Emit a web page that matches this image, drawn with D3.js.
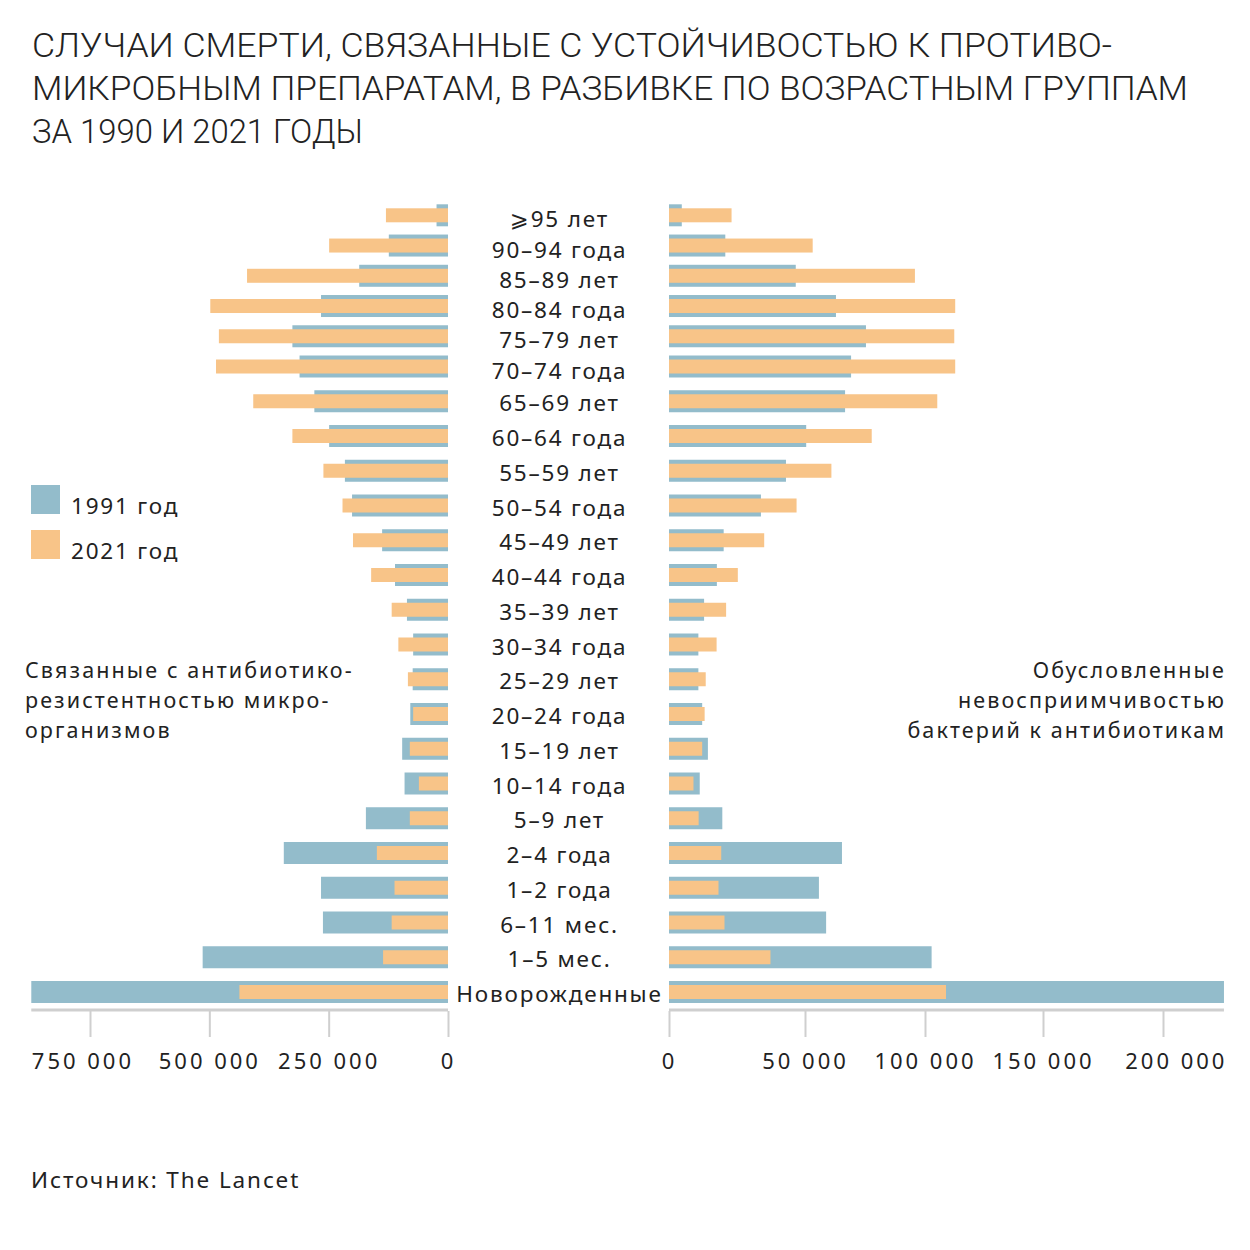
<!DOCTYPE html>
<html>
<head>
<meta charset="utf-8">
<script src="https://cdn.jsdelivr.net/npm/d3@7"></script>
<style>
  body { margin: 0; background: #fff; }
  text { font-family: "Noto Sans", "DejaVu Sans", sans-serif; fill: #222; }
  .title { font-family: "Roboto", "Noto Sans", sans-serif; font-weight: 300; font-size: 33px; }
  .cat { font-size: 22.5px; letter-spacing: 1.8px; }
  .note { font-size: 21.5px; letter-spacing: 2.1px; }
  .axis text { font-size: 22px; letter-spacing: 3px; fill: #222; }
  .axis line { stroke: #cfcfcf; stroke-width: 2; }
</style>
</head>
<body>
<svg id="chart" width="1250" height="1250"></svg>
<script>
// данные
var categories = ["\u2A7E95 лет", "90–94 года", "85–89 лет", "80–84 года", "75–79 лет", "70–74 года",
  "65–69 лет", "60–64 года", "55–59 лет", "50–54 года", "45–49 лет", "40–44 года", "35–39 лет",
  "30–34 года", "25–29 лет", "20–24 года", "15–19 лет", "10–14 года", "5–9 лет", "2–4 года",
  "1–2 года", "6–11 мес.", "1–5 мес.", "Новорожденные"];

// связанные (левая часть)
var assoc1991 = [24000, 124000, 186000, 266000, 326000, 311000, 280000, 249000, 216000, 201000,
  138000, 111000, 86000, 73000, 74000, 79000, 96000, 91000, 172000, 344000, 266000, 262000, 514000, 873000];
var assoc2021 = [130000, 249000, 421000, 498000, 480000, 486000, 408000, 326000, 261000, 221000,
  199000, 161000, 118000, 104000, 84000, 73000, 80000, 61000, 80000, 149000, 112000, 118000, 136000, 437000];

// обусловленные (правая часть)
var attr1991 = [4700, 20700, 46600, 62900, 75400, 69200, 66700, 50500, 43000, 33800,
  20100, 17600, 12900, 10800, 10800, 12200, 14300, 11300, 19600, 65400, 55800, 58800, 102800, 225400];
var attr2021 = [23000, 53200, 95800, 112800, 112400, 112800, 105200, 77800, 61000, 46900,
  35000, 25300, 21000, 17500, 13500, 13100, 12200, 9000, 10900, 19200, 18200, 20400, 37300, 108900];

var leftTicks = [750000, 500000, 250000, 0];
var rightTicks = [0, 50000, 100000, 150000, 200000];

var years = ["1991 год", "2021 год"];
var colors = ["#93bccb", "#f8c488"];

var titleLines = ["СЛУЧАИ СМЕРТИ, СВЯЗАННЫЕ С УСТОЙЧИВОСТЬЮ К ПРОТИВО-",
  "МИКРОБНЫМ ПРЕПАРАТАМ, В РАЗБИВКЕ ПО ВОЗРАСТНЫМ ГРУППАМ",
  "ЗА 1990 И 2021 ГОДЫ"];
var titleWidths = [1080, 1156, 331];

var leftNote = ["Связанные с антибиотико-", "резистентностью микро-", "организмов"];
var rightNote = ["Обусловленные", "невосприимчивостью", "бактерий к антибиотикам"];

var svg = d3.select("#chart");

// заголовок
svg.append("g").selectAll("text")
  .data(titleLines)
  .enter().append("text")
  .attr("class", "title")
  .attr("x", 32)
  .attr("y", function(d, i) { return 57 + i * 43; })
  .attr("textLength", function(d, i) { return titleWidths[i]; })
  .attr("lengthAdjust", "spacingAndGlyphs")
  .text(function(d) { return d; });

// шкалы
var y = d3.scaleLinear()   // верх немного сжат, как на оригинале
  .domain([0, 5, categories.length - 1])
  .range([215.3, 366.5, 992]);

var xL = d3.scaleLinear().domain([0, 750000]).range([448, 90]);
var xR = d3.scaleLinear().domain(rightTicks).range([669, 805, 925, 1043, 1163]);

var bigH = 22, smallH = 14;

function drawSide(scale, v1991, v2021, isLeft) {
  var g = svg.append("g");
  g.selectAll("rect.b1991")
    .data(v1991)
    .enter().append("rect")
    .attr("class", "b1991")
    .attr("fill", colors[0])
    .attr("x", function(d) { return isLeft ? scale(d) : scale(0); })
    .attr("width", function(d) { return Math.abs(scale(d) - scale(0)); })
    .attr("y", function(d, i) { return y(i) - bigH / 2; })
    .attr("height", bigH);
  g.selectAll("rect.b2021")
    .data(v2021)
    .enter().append("rect")
    .attr("class", "b2021")
    .attr("fill", colors[1])
    .attr("x", function(d) { return isLeft ? scale(d) : scale(0); })
    .attr("width", function(d) { return Math.abs(scale(d) - scale(0)); })
    .attr("y", function(d, i) { return y(i) - smallH / 2; })
    .attr("height", smallH);
}
drawSide(xL, assoc1991, assoc2021, true);
drawSide(xR, attr1991, attr2021, false);

// подписи возрастных групп
svg.append("g").selectAll("text")
  .data(categories)
  .enter().append("text")
  .attr("class", "cat")
  .attr("x", (xL(0) + xR(0)) / 2 + 1)
  .attr("y", function(d, i) { return y(i) + 9 + (i < 6 ? 3 : 1); })
  .attr("text-anchor", "middle")
  .text(function(d) { return d; });

// оси
var fmt = d3.formatLocale({ decimal: ",", thousands: " ", grouping: [3], currency: ["", ""] }).format(",d");
var axisY = 1010;
var maxL = d3.max(assoc1991), maxR = d3.max(attr1991);

svg.append("line")
  .attr("x1", xL(maxL)).attr("x2", xL(0))
  .attr("y1", axisY).attr("y2", axisY)
  .attr("stroke", "#cfcfcf").attr("stroke-width", 3);
svg.append("line")
  .attr("x1", xR(0)).attr("x2", xR(maxR))
  .attr("y1", axisY).attr("y2", axisY)
  .attr("stroke", "#cfcfcf").attr("stroke-width", 3);

var axL = svg.append("g")
  .attr("class", "axis")
  .attr("transform", "translate(0," + (axisY + 1) + ")")
  .call(d3.axisBottom(xL).tickValues(leftTicks).tickSize(26).tickPadding(16).tickFormat(fmt));
var axR = svg.append("g")
  .attr("class", "axis")
  .attr("transform", "translate(0," + (axisY + 1) + ")")
  .call(d3.axisBottom(xR).tickValues(rightTicks).tickSize(26).tickPadding(16).tickFormat(fmt));

axL.select(".domain").remove();
axR.select(".domain").remove();
axL.selectAll("text").attr("font-family", null).attr("font-size", null);
axR.selectAll("text").attr("font-family", null).attr("font-size", null);

// крайние подписи прижаты к краям графика
axL.selectAll(".tick").filter(function(d) { return d === 750000; }).select("text")
  .attr("text-anchor", "start").attr("x", xL(maxL) - xL(750000));
axR.selectAll(".tick").filter(function(d) { return d === 200000; }).select("text")
  .attr("text-anchor", "end").attr("x", xR(maxR) - xR(200000) + 3);

// легенда
var leg = svg.append("g");
leg.selectAll("rect")
  .data(years)
  .enter().append("rect")
  .attr("x", 31)
  .attr("y", function(d, i) { return 485 + i * 45; })
  .attr("width", 29).attr("height", 29)
  .attr("fill", function(d, i) { return colors[i]; });
leg.selectAll("text")
  .data(years)
  .enter().append("text")
  .attr("class", "cat")
  .attr("x", 71)
  .attr("y", function(d, i) { return 514 + i * 45; })
  .text(function(d) { return d; });

// пояснения
svg.append("g").selectAll("text")
  .data(leftNote)
  .enter().append("text")
  .attr("class", "note")
  .attr("x", 25)
  .attr("y", function(d, i) { return 678 + i * 30; })
  .text(function(d) { return d; });
svg.append("g").selectAll("text")
  .data(rightNote)
  .enter().append("text")
  .attr("class", "note")
  .attr("x", 1226)
  .attr("y", function(d, i) { return 678 + i * 30; })
  .attr("text-anchor", "end")
  .text(function(d) { return d; });

// источник
svg.append("text")
  .attr("class", "note")
  .attr("x", 31)
  .attr("y", 1188)
  .style("font-size", "22.5px")
  .style("letter-spacing", "1.9px")
  .text("Источник: The Lancet");
</script>
</body>
</html>
